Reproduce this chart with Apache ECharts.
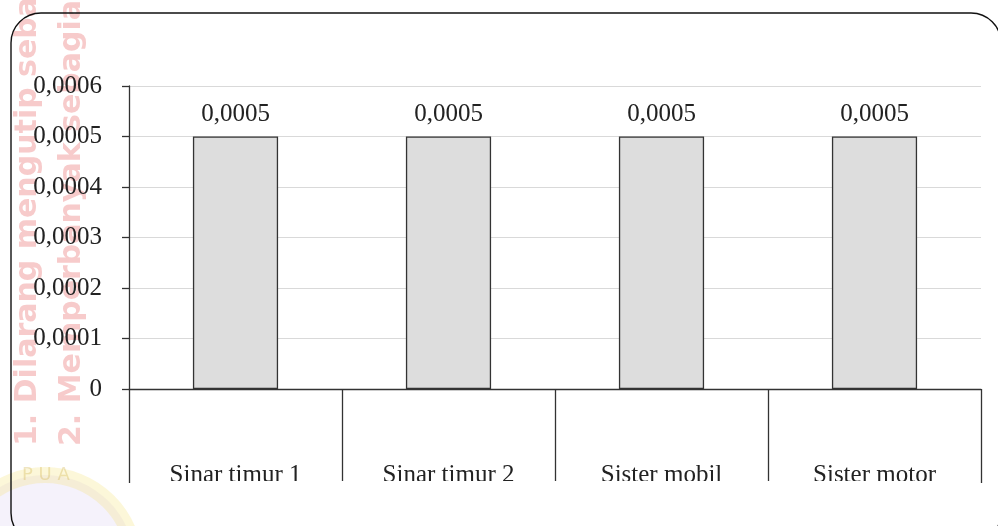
<!DOCTYPE html>
<html>
<head>
<meta charset="utf-8">
<style>
  html, body { margin: 0; padding: 0; background: #fff; }
  #chart { width: 998px; height: 526px; }
</style>
<script src="https://cdn.jsdelivr.net/npm/echarts@6/dist/echarts.min.js"></script>
</head>
<body>
<div id="chart"></div>
<script>
// Categories and values
const categories = ['Sinar timur 1', 'Sinar timur 2', 'Sister mobil', 'Sister motor'];
const values = [0.0005, 0.0005, 0.0005, 0.0005];
const yTicks = [0, 0.0001, 0.0002, 0.0003, 0.0004, 0.0005, 0.0006];

const serif = '"Liberation Serif", "DejaVu Serif", serif';
const fmt = v => (Math.abs(v) < 1e-12 ? '0' : v.toFixed(4).replace('.', ','));

const chart = echarts.init(document.getElementById('chart'), null, { renderer: 'canvas' });

chart.setOption({
  animation: false,
  backgroundColor: '#fff',
  grid: { left: 129, right: 17, top: 86, bottom: 137, containLabel: false },
  xAxis: {
    type: 'category',
    data: categories,
    boundaryGap: true,
    axisLine: { show: true, lineStyle: { color: '#333', width: 1.3 } },
    axisTick: { show: true, inside: false, length: 94, alignWithLabel: false,
                lineStyle: { color: '#333', width: 1.3 } },
    axisLabel: { margin: 74, fontFamily: serif, fontSize: 25, color: '#222' },
    splitLine: { show: false }
  },
  yAxis: {
    type: 'value',
    min: yTicks[0],
    max: yTicks[yTicks.length - 1],
    interval: yTicks[1] - yTicks[0],
    axisLine: { show: true, lineStyle: { color: '#333', width: 1.3 } },
    axisTick: { show: true, inside: false, length: 7, lineStyle: { color: '#333', width: 1.3 } },
    axisLabel: { margin: 27, fontFamily: serif, fontSize: 25, color: '#222', formatter: fmt },
    splitLine: { show: true, lineStyle: { color: '#d9d9d9', width: 1 } }
  },
  series: [{
    type: 'bar',
    data: values,
    barWidth: '40%',
    itemStyle: { color: '#dddddd', borderColor: '#333', borderWidth: 1.3 },
    label: {
      show: true, position: 'top', distance: 10,
      fontFamily: serif, fontSize: 25, color: '#222',
      formatter: p => fmt(p.value)
    }
  }],
  graphic: [
    // faint vertical notice text on the left margin
    {
      type: 'text', x: 28, y: 446, rotation: Math.PI / 2, z: -10,
      style: { text: '1. Dilarang mengutip sebagian atau seluruh karya tulis ini',
               font: 'bold 30px "DejaVu Sans", sans-serif', fill: 'rgba(225,70,70,0.28)',
               align: 'left', verticalAlign: 'middle' }
    },
    {
      type: 'text', x: 72, y: 446, rotation: Math.PI / 2, z: -10,
      style: { text: '2. Memperbanyak sebagian atau seluruh karya tulis ini',
               font: 'bold 30px "DejaVu Sans", sans-serif', fill: 'rgba(225,70,70,0.28)',
               align: 'left', verticalAlign: 'middle' }
    },
    // faint emblem at the bottom left
    {
      type: 'circle', z: -10,
      shape: { cx: 45, cy: 565, r: 90 },
      style: { fill: 'rgba(185,160,225,0.14)', stroke: 'rgba(245,225,120,0.28)', lineWidth: 16 }
    },
    {
      type: 'text', x: 22, y: 466, z: -9,
      style: { text: 'P U A', font: '18px "DejaVu Sans", sans-serif', fill: 'rgba(210,180,80,0.35)' }
    },
    // white band that trims the lower part of the category labels
    {
      type: 'rect', z: 100,
      shape: { x: 132, y: 481, width: 846, height: 30 },
      style: { fill: '#fff' }
    },
    // rounded frame around the chart
    {
      type: 'rect', z: 101,
      shape: { x: 11, y: 13, width: 990, height: 530, r: 30 },
      style: { fill: 'none', stroke: '#111', lineWidth: 1.4 }
    }
  ]
});
</script>
</body>
</html>
